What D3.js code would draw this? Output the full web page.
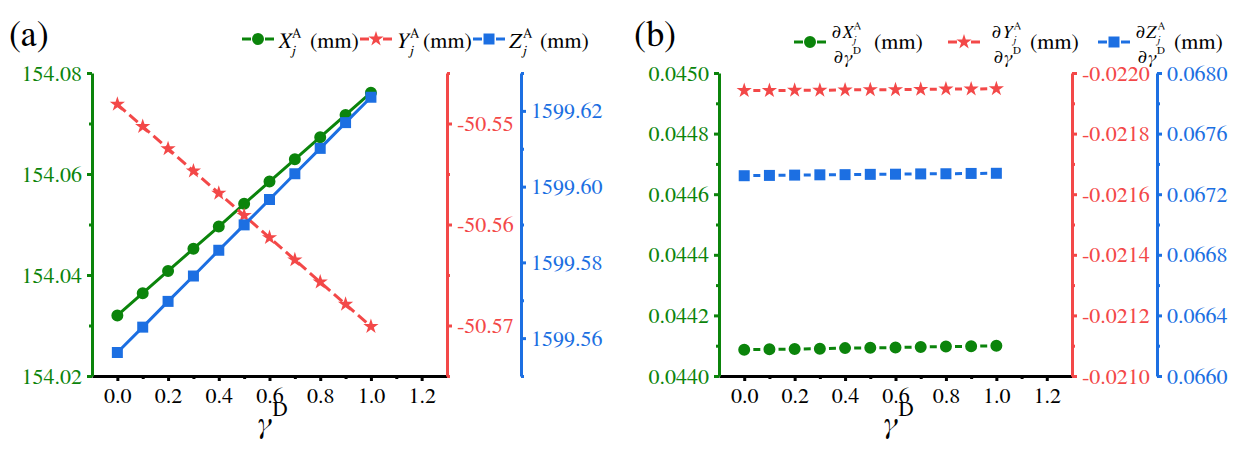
<!DOCTYPE html>
<html>
<head>
<meta charset="utf-8">
<script src="https://cdn.jsdelivr.net/npm/d3@7"></script>
</head>
<body style="margin:0">
<svg width="1247" height="449"></svg>
<script>

// gamma^D values (x)
var gamma = [0.0, 0.1, 0.2, 0.3, 0.4, 0.5, 0.6, 0.7, 0.8, 0.9, 1.0];

// (a) coordinates
var xA = [154.0320, 154.0364, 154.0408, 154.0452, 154.0496, 154.0541, 154.0585, 154.0629, 154.0673, 154.0717, 154.0761];
var yA = [-50.5481, -50.5503, -50.5525, -50.5547, -50.5569, -50.5591, -50.5613, -50.5635, -50.5657, -50.5679, -50.5701];
var zA = [1599.5562, 1599.5629, 1599.5697, 1599.5764, 1599.5832, 1599.5899, 1599.5966, 1599.6034, 1599.6101, 1599.6169, 1599.6236];

// (b) derivatives
var dxA = [0.044087, 0.044088, 0.044089, 0.044090, 0.044092, 0.044093, 0.044094, 0.044096, 0.044097, 0.044098, 0.044100];
var dyA = [-0.021942, -0.021942, -0.021943, -0.021943, -0.021944, -0.021945, -0.021945, -0.021946, -0.021947, -0.021947, -0.021948];
var dzA = [0.067322, 0.067324, 0.067326, 0.067328, 0.067329, 0.067331, 0.067332, 0.067334, 0.067335, 0.067337, 0.067338];

// ticks
var xTicks = [0.0, 0.2, 0.4, 0.6, 0.8, 1.0, 1.2];
var xMinor = [0.1, 0.3, 0.5, 0.7, 0.9, 1.1];
var aGreenTicks = [154.02, 154.04, 154.06, 154.08];
var aGreenMinor = [154.03, 154.05, 154.07];
var aRedTicks = [-50.55, -50.56, -50.57];
var aRedMinor = [-50.545, -50.555, -50.565, -50.575];
var aBlueTicks = [1599.56, 1599.58, 1599.60, 1599.62];
var aBlueMinor = [1599.55, 1599.57, 1599.59, 1599.61, 1599.63];
var bGreenTicks = [0.0440, 0.0442, 0.0444, 0.0446, 0.0448, 0.0450];
var bGreenMinor = [0.0441, 0.0443, 0.0445, 0.0447, 0.0449];
var bRedTicks = [-0.0220, -0.0218, -0.0216, -0.0214, -0.0212, -0.0210];
var bRedMinor = [-0.0219, -0.0217, -0.0215, -0.0213, -0.0211];
var bBlueTicks = [0.0660, 0.0664, 0.0668, 0.0672, 0.0676, 0.0680];
var bBlueMinor = [0.0662, 0.0666, 0.0670, 0.0674, 0.0678];

var green = "#0b840b", red = "#f34848", blue = "#1c6fe2";
var FONT = "'FreeSerif'";  // the only Times-like face that actually rendered here

// plain hyphen for negative numbers, like the original
var loc = d3.formatLocale({decimal: ".", thousands: ",", grouping: [3], currency: ["", ""], minus: "-"});

var svg = d3.select("svg");
var top_ = 73, bottom = 376;

function txt(parent, x, y, size, s, italic) {
    return parent.append("text").attr("x", x).attr("y", y)
        .style("font-family", FONT)
        .style("font-size", size + "px").style("font-style", italic ? "italic" : "normal")
        .text(s);
}

function yAxis(g, scale, side, xpos, color, major, minor, fmt) {
    var ax = (side == "left" ? d3.axisLeft(scale) : d3.axisRight(scale))
        .tickValues(major).tickSize(5).tickSizeOuter(0).tickPadding(5).tickFormat(fmt);
    var a = g.append("g").attr("transform", "translate(" + xpos + ",0)").call(ax);
    a.attr("font-family", null).attr("font-size", null);
    a.select(".domain").attr("stroke", color).attr("stroke-width", 3);
    a.selectAll(".tick line").attr("stroke", color).attr("stroke-width", 3);
    a.selectAll(".tick text").attr("fill", color).style("font-family", FONT).style("font-size", "22px");

    var m = (side == "left" ? d3.axisLeft(scale) : d3.axisRight(scale))
        .tickValues(minor).tickSize(3).tickSizeOuter(0).tickFormat("");
    var b = g.append("g").attr("transform", "translate(" + xpos + ",0)").call(m);
    b.select(".domain").remove();
    b.selectAll(".tick line").attr("stroke", color).attr("stroke-width", 3);
}

function panel(left, right, blueX, sG, sR, sB, dG, dR, dB, ticks, fmt, dashedAll) {
    var g = svg.append("g");
    var x = d3.scaleLinear().domain([-0.1, 1.3]).range([left, right]);

    // x axis
    var ax = g.append("g").attr("transform", "translate(0," + bottom + ")")
        .call(d3.axisBottom(x).tickValues(xTicks).tickSize(5).tickSizeOuter(0).tickPadding(6).tickFormat(loc.format(".1f")));
    ax.attr("font-family", null).attr("font-size", null);
    ax.select(".domain").attr("stroke", "#000").attr("stroke-width", 3);
    ax.selectAll(".tick line").attr("stroke", "#000").attr("stroke-width", 3);
    ax.selectAll(".tick text").attr("fill", "#000").style("font-family", FONT).style("font-size", "22px");
    var axm = g.append("g").attr("transform", "translate(0," + bottom + ")")
        .call(d3.axisBottom(x).tickValues(xMinor).tickSize(3).tickSizeOuter(0).tickFormat(""));
    axm.select(".domain").remove();
    axm.selectAll(".tick line").attr("stroke", "#000").attr("stroke-width", 3);

    yAxis(g, sG, "left", left, green, ticks[0], ticks[1], fmt);
    yAxis(g, sR, "right", right, red, ticks[2], ticks[3], fmt);
    yAxis(g, sB, "right", blueX, blue, ticks[4], ticks[5], fmt);

    // axis title
    var cx = (left + right) / 2;
    txt(g, cx - 12, 433, 30, "γ", true);
    txt(g, cx + 3, 416, 21, "D", false);

    var step = x(0.1) - x(0);
    var gap = (step - 7) / 2;
    var dashB = "0," + gap + ",7," + gap;

    var series = [
        {d: dG, s: sG, c: green, sym: d3.symbolCircle, size: 113, dash: dashedAll ? dashB : null},
        {d: dR, s: sR, c: red, sym: d3.symbolStar, size: 72, dash: dashedAll ? dashB : "11,5"},
        {d: dB, s: sB, c: blue, sym: d3.symbolSquare, size: 121, dash: dashedAll ? dashB : null}
    ];
    series.forEach(function(se) {
        var line = d3.line().x(function(d, i) { return x(gamma[i]); }).y(function(d) { return se.s(d); });
        g.append("path").datum(se.d)
            .attr("fill", "none").attr("stroke", se.c).attr("stroke-width", 3)
            .attr("stroke-dasharray", se.dash)
            .attr("d", line);
        g.selectAll(null).data(se.d).enter().append("path")
            .attr("transform", function(d, i) { return "translate(" + x(gamma[i]) + "," + se.s(d) + ")"; })
            .attr("d", d3.symbol().type(se.sym).size(se.size))
            .attr("fill", se.c);
    });
}

// (a)
panel(92, 447, 521,
    d3.scaleLinear().domain([154.02, 154.08]).range([bottom, top_]),
    d3.scaleLinear().domain([-50.575, -50.545]).range([bottom, top_]),
    d3.scaleLinear().domain([1599.55, 1599.63]).range([bottom, top_]),
    xA, yA, zA,
    [aGreenTicks, aGreenMinor, aRedTicks, aRedMinor, aBlueTicks, aBlueMinor],
    loc.format(".2f"), false);

// (b)
panel(719, 1072, 1157,
    d3.scaleLinear().domain([0.0440, 0.0450]).range([bottom, top_]),
    d3.scaleLinear().domain([-0.0210, -0.0220]).range([bottom, top_]),
    d3.scaleLinear().domain([0.0660, 0.0680]).range([bottom, top_]),
    dxA, dyA, dzA,
    [bGreenTicks, bGreenMinor, bRedTicks, bRedMinor, bBlueTicks, bBlueMinor],
    loc.format(".4f"), true);

// panel letters
txt(svg, 9, 46, 36, "(a)");
txt(svg, 634, 46, 36, "(b)");

// legend helpers
function legendSymbol(cx, cy, color, sym, size) {
    svg.append("line").attr("x1", cx - 16).attr("x2", cx - 7).attr("y1", cy).attr("y2", cy)
        .attr("stroke", color).attr("stroke-width", 3);
    svg.append("line").attr("x1", cx + 7).attr("x2", cx + 16).attr("y1", cy).attr("y2", cy)
        .attr("stroke", color).attr("stroke-width", 3);
    svg.append("path").attr("transform", "translate(" + cx + "," + cy + ")")
        .attr("d", d3.symbol().type(sym).size(size)).attr("fill", color);
}
function varLabel(x, y, letter, fs) {
    txt(svg, x, y, fs, letter, true);
    txt(svg, x + fs * 0.6, y + fs * 0.32, Math.round(fs * 0.62), "j", true);
    txt(svg, x + fs * 0.64, y - fs * 0.52, Math.round(fs * 0.6), "A");
}

// legend (a)
var legA = [{x: 258, c: green, sym: d3.symbolCircle, size: 113, l: "X", t: 278, mm: 310},
            {x: 376, c: red, sym: d3.symbolStar, size: 72, l: "Y", t: 396, mm: 423},
            {x: 489, c: blue, sym: d3.symbolSquare, size: 121, l: "Z", t: 509, mm: 540}];
legA.forEach(function(d) {
    legendSymbol(d.x, 39, d.c, d.sym, d.size);
    varLabel(d.t, 48, d.l, 22);
    txt(svg, d.mm, 48, 22, "(mm)");
});

// legend (b): fraction d(.)/d gamma^D
var legB = [{x: 810, c: green, sym: d3.symbolCircle, size: 113, l: "X", t: 832, mm: 874},
            {x: 964, c: red, sym: d3.symbolStar, size: 72, l: "Y", t: 992, mm: 1030},
            {x: 1114, c: blue, sym: d3.symbolSquare, size: 121, l: "Z", t: 1136, mm: 1174}];
legB.forEach(function(d) {
    legendSymbol(d.x, 42, d.c, d.sym, d.size);
    txt(svg, d.t, 38, 18, "∂");
    varLabel(d.t + 10, 38, d.l, 18);
    txt(svg, d.t + 2, 63, 18, "∂");
    txt(svg, d.t + 12, 63, 18, "γ", true);
    txt(svg, d.t + 21, 54, 11, "D");
    txt(svg, d.mm, 49, 22, "(mm)");
});

</script>
</body>
</html>
